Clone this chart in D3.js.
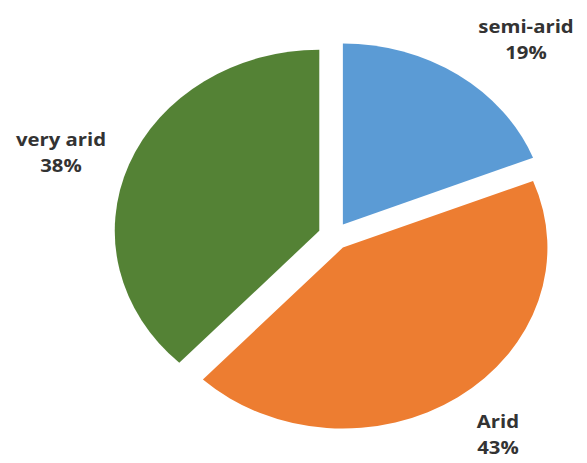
<!DOCTYPE html>
<html>
<head>
<meta charset="utf-8">
<script src="https://cdn.jsdelivr.net/npm/d3@7"></script>
<style>
	body { margin: 0; background: #fff; }
	svg text { font-family: "Open Sans", sans-serif; font-weight: bold; fill: #333; }
</style>
</head>
<body>
<svg width="587" height="463"></svg>
<script>
'use strict';

// chart data, clockwise from 12 o'clock
var categories = ['semi-arid', 'Arid', 'very arid'];
var shares = [19, 43, 38];
var colours = ['#5b9bd5', '#ed7d31', '#548235'];

var svg = d3.select('svg');

// the picture is stretched a bit horizontally
var cx = 334, cy = 236, radius = 181, stretch = 1.13, explode = 14;

var pie = d3.pie().sort(null).value(function (d) { return d; });
var arc = d3.arc().innerRadius(0).outerRadius(radius);
var slices = pie(shares);

var g = svg.append('g')
	.attr('transform', 'translate(' + cx + ',' + cy + ') scale(' + stretch + ',1)');

g.selectAll('path')
		.data(slices)
	.enter()
		.append('path')
		.attr('fill', function (d, i) { return colours[i]; })
		.attr('d', arc)
		.attr('transform', function (d) {
			var mid = (d.startAngle + d.endAngle) / 2;
			return 'translate(' + (explode * Math.sin(mid)) + ',' + (-explode * Math.cos(mid)) + ')';
		});

// label spots (picture coords) for each slice
var labelPos = [[526, 33], [498, 428], [61, 146]];

var labels = svg.selectAll('g.lbl')
		.data(slices)
	.enter()
		.append('g')
		.attr('class', 'lbl')
		.attr('transform', function (d, i) {
			return 'translate(' + labelPos[i][0] + ',' + labelPos[i][1] + ') scale(' + stretch + ',1)';
		});

labels.append('text')
	.attr('text-anchor', 'middle')
	.attr('font-size', 18)
	.text(function (d, i) { return categories[i]; });
labels.append('text')
	.attr('text-anchor', 'middle')
	.attr('font-size', 18)
	.attr('y', 26)
	.text(function (d) { return d.value + '%'; });
</script>
</body>
</html>
